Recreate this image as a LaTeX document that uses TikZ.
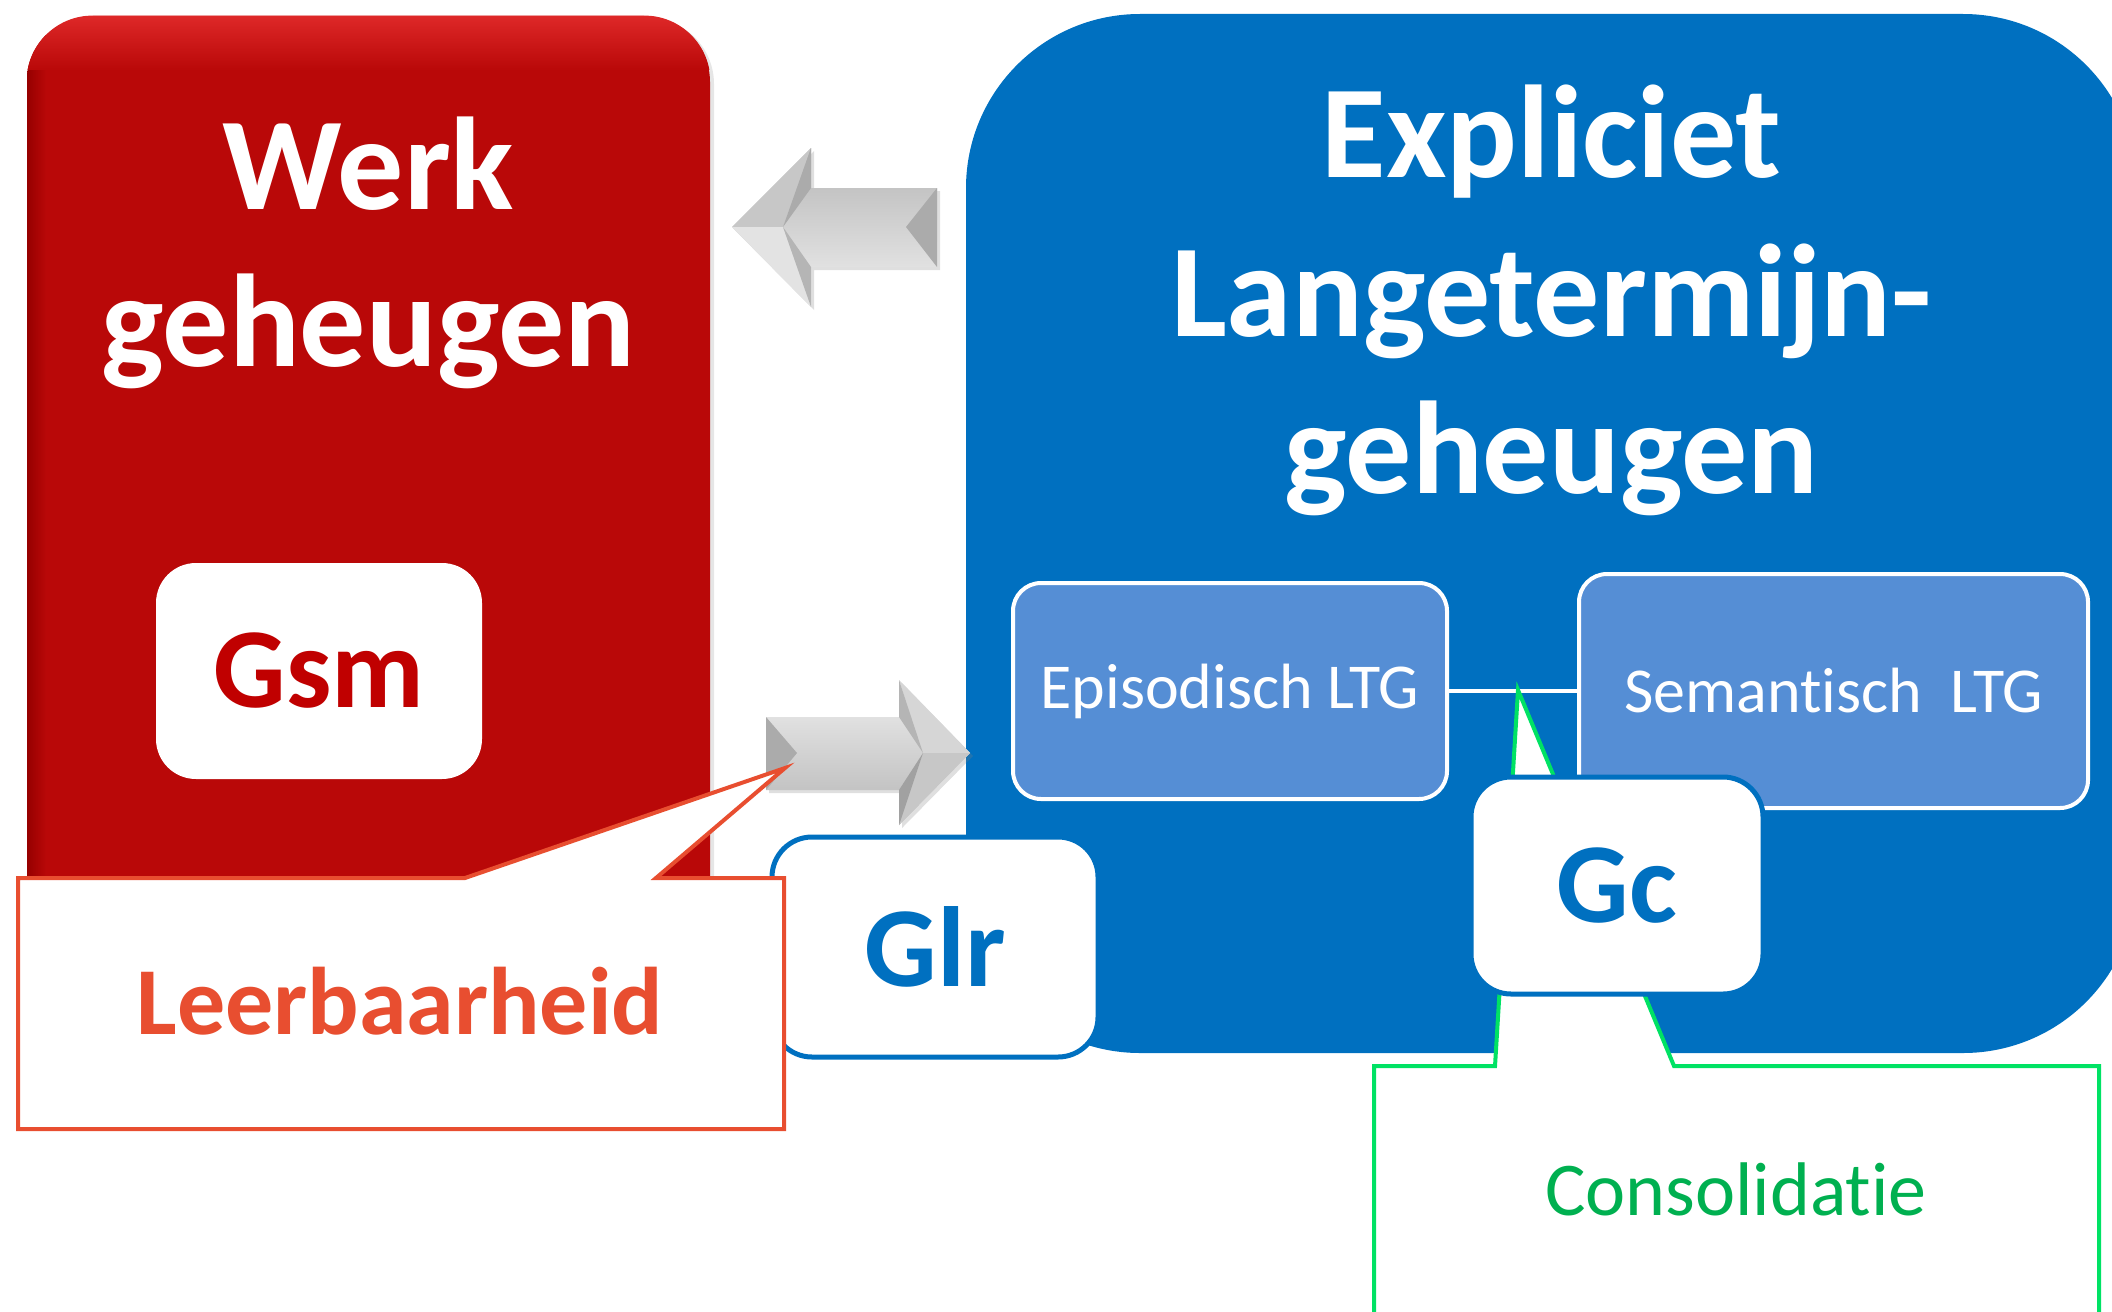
\documentclass[tikz,border=0pt]{standalone}
\usepackage{fontspec}
\setmainfont{Carlito}[Ligatures=NoCommon]
\usetikzlibrary{shadows}

\definecolor{wmred}{RGB}{185,8,8}
\definecolor{wmredhi}{RGB}{222,40,40}
\definecolor{wmreddk}{RGB}{150,0,0}
\definecolor{gsmred}{RGB}{192,0,0}
\definecolor{ltmblue}{RGB}{0,112,192}
\definecolor{subblue}{RGB}{85,142,213}
\definecolor{leerred}{RGB}{232,78,48}
\definecolor{consline}{RGB}{0,226,100}
\definecolor{constext}{RGB}{0,176,80}
\definecolor{g160}{gray}{0.63}
\definecolor{g170}{gray}{0.67}
\definecolor{g180}{gray}{0.71}
\definecolor{g200}{gray}{0.78}
\definecolor{g215}{gray}{0.84}
\definecolor{g228}{gray}{0.89}
\definecolor{g240}{gray}{0.94}

\tikzset{
  titletext/.style={text=white, font=\bfseries\fontsize{66}{79}\selectfont,
    inner sep=0pt, anchor=base},
  memorybox/.style={inner sep=0pt, draw=none},
  abilitybox/.style={fill=white, inner sep=0pt, rounded corners=20pt,
    font=\bfseries\fontsize{57}{66}\selectfont},
  ltgbox/.style={fill=subblue, draw=white, line width=2pt, inner sep=0pt,
    rounded corners=14pt, text=white, font=\fontsize{32}{38}\selectfont},
  link/.style={draw=white, line width=2pt},
  calloutbox/.style={fill=white, line width=2pt, line join=miter},
  arrowbody/.style={drop shadow={opacity=0.25, shadow xshift=1.5pt, shadow yshift=-1.5pt}},
}

\begin{document}
\begin{tikzpicture}[x=0.5pt, y=-0.5pt]
\useasboundingbox (0,0) rectangle (2112,1311);
\clip (0,0) rectangle (2112,1311);

% ---------- working memory (red) ----------
\node[memorybox, fill=wmred, rounded corners=33pt, minimum width=341.5pt,
      minimum height=472pt,
      drop shadow={opacity=0.2, shadow xshift=2pt, shadow yshift=-1pt}]
      (wm) at (368.5,488) {};
\begin{scope}
  \clip[rounded corners=33pt] (wm.north west) rectangle (wm.south east);
  \shade[left color=wmreddk, right color=wmred] (27,16) rectangle (46,960);
  \shade[top color=wmredhi, bottom color=wmred] (27,16) rectangle (710,70);
\end{scope}
\node[titletext] (wmline1) at (368.5,209) {Werk};
\node[titletext] (wmline2) at (368.5,366) {geheugen};

\node[abilitybox, text=gsmred, minimum width=163pt, minimum height=108pt]
      (gsm) at (319,671) {Gsm};

% ---------- arrow from long-term memory to working memory ----------
\coordinate (la1) at (937,188);
\coordinate (la2) at (811,188);
\coordinate (la3) at (811,148);
\coordinate (la4) at (732,227);
\coordinate (la5) at (811,307);
\coordinate (la6) at (811,267);
\coordinate (la7) at (937,267);
\coordinate (laJ) at (783,227);
\coordinate (laT) at (906,227);
\shade[arrowbody, top color=g180, bottom color=g240]
  (la1) -- (la2) -- (la3) -- (la4) -- (la5) -- (la6) -- (la7) -- cycle;
\fill[g200] (la3) -- (la4) -- (laJ) -- cycle;
\fill[g228] (laJ) -- (la4) -- (la5) -- cycle;
\fill[g170] (la3) -- (la2) -- (laJ) -- cycle;
\fill[g180] (la5) -- (la6) -- (laJ) -- cycle;
\fill[g170] (la1) -- (la7) -- (laT) -- cycle;

% ---------- explicit long-term memory (blue) ----------
\node[memorybox, fill=ltmblue, rounded corners=87pt, minimum width=585.5pt,
      minimum height=519.5pt] (ltm) at (1551.5,533.5) {};
\node[titletext] (ltmline1) at (1551.5,177) {Expliciet};
\node[titletext] (ltmline2) at (1551.5,336) {Langetermijn-};
\node[titletext] (ltmline3) at (1551.5,493) {geheugen};

\node[ltgbox, minimum width=217pt, minimum height=108pt]
      (epi) at (1230,691) {Episodisch LTG};
\node[ltgbox, minimum width=254.5pt, minimum height=117pt]
      (sem) at (1833.5,691) {Semantisch~~LTG};
\draw[link] (epi.east) -- (sem.west);

% ---------- consolidation callout ----------
\coordinate (consTip) at (1518,690);
\filldraw[calloutbox, draw=consline]
  (1374,1066) -- (1495,1066) -- (consTip) -- (1674,1066) -- (2099,1066)
  -- (2099,1400) -- (1374,1400) -- cycle;
\node[inner sep=0pt, anchor=base, text=constext, font=\fontsize{38}{44}\selectfont]
      (cons) at (1736,1215) {Consolidatie};

\node[abilitybox, draw=ltmblue, line width=2.5pt, text=ltmblue,
      minimum width=146pt, minimum height=108.5pt] (gc) at (1617,885.5) {Gc};

% ---------- arrow from working memory to long-term memory ----------
\coordinate (ra1) at (766,717);
\coordinate (ra2) at (899,717);
\coordinate (ra3) at (899,680);
\coordinate (ra4) at (970,753);
\coordinate (ra5) at (899,825);
\coordinate (ra6) at (899,790);
\coordinate (ra7) at (766,790);
\coordinate (raJ) at (923,753);
\coordinate (raT) at (797,753);
\shade[arrowbody, top color=g240, bottom color=g180]
  (ra1) -- (ra2) -- (ra3) -- (ra4) -- (ra5) -- (ra6) -- (ra7) -- cycle;
\fill[g215] (ra3) -- (ra4) -- (raJ) -- cycle;
\fill[g200] (raJ) -- (ra4) -- (ra5) -- cycle;
\fill[g180] (ra3) -- (ra2) -- (raJ) -- cycle;
\fill[g160] (ra5) -- (ra6) -- (raJ) -- cycle;
\fill[g170] (ra1) -- (ra7) -- (raT) -- cycle;

\node[abilitybox, draw=ltmblue, line width=2.5pt, text=ltmblue,
      minimum width=163pt, minimum height=110pt] (glr) at (935,947) {Glr};

% ---------- learnability callout ----------
\coordinate (leerTip) at (785,768);
\filldraw[calloutbox, draw=leerred]
  (18,878) -- (465,878) -- (leerTip) -- (656,878) -- (784,878)
  -- (784,1129) -- (18,1129) -- cycle;
\node[inner sep=0pt, anchor=base, text=leerred, font=\bfseries\fontsize{48}{56}\selectfont]
      (leer) at (400,1034) {Leerbaarheid};
\end{tikzpicture}
\end{document}
